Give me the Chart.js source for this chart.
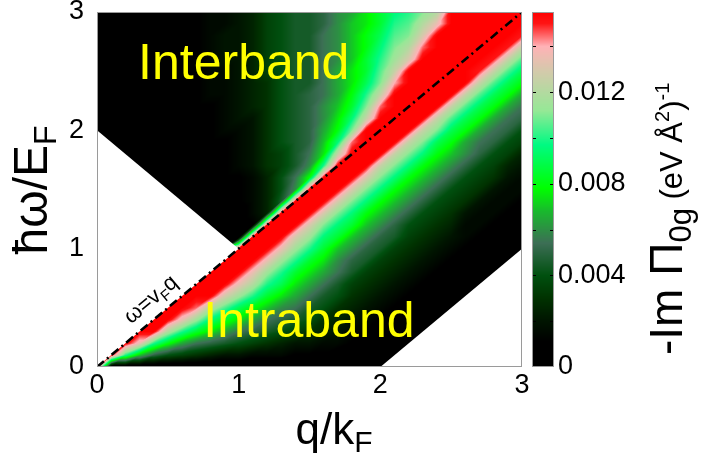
<!DOCTYPE html>
<html>
<head>
<meta charset="utf-8">
<title>-Im Π0g map</title>
<script src="https://cdn.jsdelivr.net/npm/chart.js@4.4.1/dist/chart.umd.min.js"></script>
<style>
  html, body { margin: 0; padding: 0; background: #ffffff; }
  canvas { display: block; }
</style>
</head>
<body>
<canvas id="chartCanvas" width="704" height="462"></canvas>
<script>
// sampling of the map: q/kF across, hbar*omega/EF up
const qGrid = [0, 0.1, 0.2, 0.3, 0.4, 0.5, 0.6, 0.7, 0.8, 0.9, 1, 1.1, 1.2, 1.3, 1.4, 1.5, 1.6, 1.7, 1.8, 1.9, 2, 2.1, 2.2, 2.3, 2.4, 2.5, 2.6, 2.7, 2.8, 2.9, 3];
const wGrid = [0, 0.1, 0.2, 0.3, 0.4, 0.5, 0.6, 0.7, 0.8, 0.9, 1, 1.1, 1.2, 1.3, 1.4, 1.5, 1.6, 1.7, 1.8, 1.9, 2, 2.1, 2.2, 2.3, 2.4, 2.5, 2.6, 2.7, 2.8, 2.9, 3];
// -Im Pi_0g, one string per q column, read upward in omega.
// '0'-'9','a'-'v' = 0..31 steps of cbStep (eV A^2)^-1, '.' = no absorption (left blank)
const imPiCols = [
  'v...................00000000000',
  '0v.................000000000000',
  '0kv...............0000000000000',
  '0erv.............00000000000000',
  '0akvv...........000000001111111',
  '08govv.........0000111111111111',
  '07dkrvv.......00011111122222211',
  '06bhntvv.....000111112222222222',
  '05afjovvv...0011112222233333333',
  '049dhlqvvv.00111222233333344433',
  '048bfinrvvv01122233334444444444',
  '037adgkorvvv2333344444555555555',
  '0369behknrvvv555566666666777777',
  '0358acfiknrvvv98877888888888888',
  '02479bdfhknqvvvcb99999999999999',
  '024689bdfhknqvvvgcbaaaaa9999999',
  '0235689bdfhjmqvvvkfedccbbbbbbaa',
  '01345689bcehjmqvvvpjgfedddccccc',
  '012345679acehjmqvvvtmjhgffeeeed',
  '0112345679acegjmqvvvvpmkihhggff',
  '00112345679acegjmpvvvvtpmlkjihh',
  '.00112345679acegjmpvvvvvspnmlkj',
  '..00112345678acegjmpvvvvvvqomlk',
  '...00112345678acegjmpvvvvvvtqom',
  '....00112345678acegimpvvvvvvvro',
  '.....00112345678acegilpvvvvvvvv',
  '......00112334678acdgilpvvvvvvv',
  '.......00112334678abdgilpuvvvvv',
  '........00112334678abdgilpuvvvv',
  '.........00112334578abdgilpuvvv',
  '..........00112334578abdgilpuvv'
];
const cbStep = 0.0005, cbMax = 0.0155;
const qTicks = [0, 1, 2, 3], wTicks = [0, 1, 2, 3];
const cbTicks = [0, 0.004, 0.008, 0.012];
const cbMinorTicks = [0.002, 0.004, 0.006, 0.008, 0.010, 0.012, 0.014];
// light cone omega = vF q
const lightConeQ = [0, 3], lightConeW = [0, 3];
// Pauli-blocked corners (no absorption), polygon corners in (q, omega)
const blankZones = [[[0, 0], [0, 2], [1, 1]], [[2, 0], [3, 0], [3, 1]]];
const regionLabels = [{ text: 'Interband', q: 0.29, w: 2.43 }, { text: 'Intraband', q: 0.75, w: 0.255 }];

// colour map: value, r, g, b
const paletteStops = [
  [0, 0, 0, 0], [0.0011, 0, 0, 0], [0.002, 0, 20, 0], [0.003, 0, 50, 0], [0.004, 0, 80, 15],
  [0.0054, 60, 110, 85], [0.0068, 25, 185, 45], [0.0078, 0, 255, 0], [0.0097, 0, 250, 130],
  [0.0112, 150, 232, 150], [0.013, 215, 200, 172], [0.014, 255, 178, 182], [0.015, 255, 20, 20], [0.0155, 255, 0, 0]
];
const FONT = "'Liberation Sans', Arial, sans-serif";

imPiCols.forEach((c, i) => { if (c.length !== wGrid.length) throw new Error('column ' + i + ' has ' + c.length + ' cells'); });
const cells = imPiCols.map(col => Array.from(col, ch => ch === '.' ? null : parseInt(ch, 32) * cbStep));

function paletteRGB(v) {
  if (v <= paletteStops[0][0]) return paletteStops[0].slice(1);
  for (let k = 1; k < paletteStops.length; k++) {
    const b = paletteStops[k];
    if (v <= b[0]) {
      const a = paletteStops[k - 1], f = (v - a[0]) / (b[0] - a[0]);
      return [a[1] + f * (b[1] - a[1]), a[2] + f * (b[2] - a[2]), a[3] + f * (b[3] - a[3])];
    }
  }
  return paletteStops[paletteStops.length - 1].slice(1);
}

// shading inside each grid cell, split along its rising diagonal so the
// bands that follow omega ~ q stay smooth; blank nodes are skipped
function shade(q, w) {
  const dq = qGrid[1] - qGrid[0], dw = wGrid[1] - wGrid[0];
  const fi = (q - qGrid[0]) / dq, fj = (w - wGrid[0]) / dw;
  const i0 = Math.max(0, Math.min(qGrid.length - 2, Math.floor(fi)));
  const j0 = Math.max(0, Math.min(wGrid.length - 2, Math.floor(fj)));
  const s = Math.min(1, Math.max(0, fi - i0)), t = Math.min(1, Math.max(0, fj - j0));
  const corners = t <= s
    ? [[0, 0, 1 - s], [1, 0, s - t], [1, 1, t]]
    : [[0, 0, 1 - t], [0, 1, t - s], [1, 1, s]];
  let sum = 0, wsum = 0;
  corners.forEach(([di, dj, wt]) => {
    const v = cells[i0 + di][j0 + dj];
    if (v !== null && wt > 0) { sum += v * wt; wsum += wt; }
  });
  if (wsum > 0) return sum / wsum;
  // fall back to any filled corner of the cell
  const near = [[0, 0], [1, 0], [0, 1], [1, 1]].map(([di, dj]) => cells[i0 + di][j0 + dj]).filter(v => v !== null);
  return near.length ? near[0] : null;
}

function drawRun(ctx, x, y, parts) {
  let cx = x;
  parts.forEach(([t, size, shift]) => {
    ctx.font = size + 'px ' + FONT;
    ctx.fillText(t, cx, y + shift);
    cx += ctx.measureText(t).width;
  });
  return cx - x;
}
function runWidth(ctx, parts) {
  return parts.reduce((s, [t, size]) => { ctx.font = size + 'px ' + FONT; return s + ctx.measureText(t).width; }, 0);
}

const mapPlugin = {
  id: 'imPiMap',
  beforeDatasetsDraw(chart) {
    const { ctx, chartArea: area, scales: { x, y } } = chart;
    const w = Math.round(area.right - area.left), h = Math.round(area.bottom - area.top);
    const off = document.createElement('canvas');
    off.width = w; off.height = h;
    const octx = off.getContext('2d'), img = octx.createImageData(w, h);
    for (let py = 0; py < h; py++) {
      const wv = y.getValueForPixel(area.top + py + 0.5);
      for (let px = 0; px < w; px++) {
        const v = shade(x.getValueForPixel(area.left + px + 0.5), wv);
        if (v === null) continue;
        const rgb = paletteRGB(v), k = 4 * (py * w + px);
        img.data[k] = rgb[0]; img.data[k + 1] = rgb[1]; img.data[k + 2] = rgb[2]; img.data[k + 3] = 255;
      }
    }
    octx.putImageData(img, 0, 0);
    ctx.drawImage(off, area.left, area.top);
    ctx.save();
    ctx.fillStyle = '#ffffff';
    blankZones.forEach(zone => {
      ctx.beginPath();
      zone.forEach(([q, wv], k) => {
        const X = x.getPixelForValue(q), Y = y.getPixelForValue(wv);
        if (k) ctx.lineTo(X, Y); else ctx.moveTo(X, Y);
      });
      ctx.closePath();
      ctx.fill();
    });
    ctx.restore();
  },
  afterDatasetsDraw(chart) {
    const { ctx, chartArea: area, scales: { x, y } } = chart;
    ctx.save();
    // region names
    ctx.fillStyle = '#ffff00';
    ctx.font = '50px ' + FONT;
    ctx.textBaseline = 'alphabetic';
    regionLabels.forEach(l => ctx.fillText(l.text, x.getPixelForValue(l.q), y.getPixelForValue(l.w)));
    // light cone tag, laid along the line
    const ang = Math.atan2(y.getPixelForValue(3) - y.getPixelForValue(0), x.getPixelForValue(3) - x.getPixelForValue(0));
    ctx.translate(x.getPixelForValue(0.24), y.getPixelForValue(0.36));
    ctx.rotate(ang);
    ctx.fillStyle = '#000000';
    drawRun(ctx, 0, 0, [['ω=v', 22, 0], ['F', 15, 5], ['q', 22, 0]]);
    ctx.restore();
    // frame
    ctx.save();
    ctx.strokeStyle = '#9a9a9a';
    ctx.lineWidth = 1;
    ctx.strokeRect(area.left + 0.5, area.top + 0.5, area.right - area.left - 1, area.bottom - area.top - 1);
    ctx.restore();
  },
  afterDraw(chart) {
    const { ctx, chartArea: area, scales: { cb } } = chart;
    ctx.save();
    // colour bar
    const bx0 = area.right + 10, bx1 = area.right + 32;
    for (let py = Math.round(cb.top); py < Math.round(cb.bottom); py++) {
      const rgb = paletteRGB(cb.getValueForPixel(py + 0.5));
      ctx.fillStyle = 'rgb(' + rgb.map(Math.round).join(',') + ')';
      ctx.fillRect(bx0, py, bx1 - bx0, 1);
    }
    ctx.strokeStyle = '#000000';
    ctx.lineWidth = 1;
    cbMinorTicks.forEach(v => {
      const Y = Math.round(cb.getPixelForValue(v)) + 0.5;
      ctx.beginPath();
      ctx.moveTo(bx0, Y); ctx.lineTo(bx0 + 4, Y);
      ctx.moveTo(bx1 - 4, Y); ctx.lineTo(bx1, Y);
      ctx.stroke();
    });
    ctx.strokeStyle = '#9a9a9a';
    ctx.strokeRect(bx0 + 0.5, cb.top + 0.5, bx1 - bx0 - 1, cb.bottom - cb.top - 1);

    ctx.fillStyle = '#000000';
    ctx.textBaseline = 'alphabetic';
    // x title
    const xt = [['q/k', 44, 0], ['F', 30, 8]];
    drawRun(ctx, 334 - runWidth(ctx, xt) / 2, 444, xt);
    // y title
    const yt = [['ħω/E', 48, 0], ['F', 32, 9]];
    ctx.save();
    ctx.translate(47, 190 + runWidth(ctx, yt) / 2);
    ctx.rotate(-Math.PI / 2);
    drawRun(ctx, 0, 0, yt);
    ctx.restore();
    // colour bar title
    const ct = [['-Im Π', 46, 0], ['0g', 31, 9], [' (eV Å', 31, 0], ['2', 20, -13], [')', 31, 0], ['-1', 20, -13]];
    ctx.save();
    ctx.translate(682, 355);
    ctx.rotate(-Math.PI / 2);
    drawRun(ctx, 0, 0, ct);
    ctx.restore();
    ctx.restore();
  }
};

const tickFont = { family: FONT, size: 27, lineHeight: 0.88 };
// invisible tick marks set the gap between an axis and its labels
const hiddenTicks = len => ({ display: true, drawOnChartArea: false, drawTicks: true, tickLength: len, tickColor: 'rgba(0,0,0,0)' });
new Chart(document.getElementById('chartCanvas').getContext('2d'), {
  type: 'scatter',
  data: {
    datasets: [{
      data: lightConeQ.map((q, k) => ({ x: q, y: lightConeW[k] })),
      showLine: true, borderColor: '#000000', borderWidth: 2.6, borderDash: [9, 4, 2, 4],
      pointRadius: 0, fill: false
    }]
  },
  options: {
    responsive: false, animation: false, events: [],
    layout: { padding: { top: 12 } },
    plugins: { legend: { display: false }, tooltip: { enabled: false } },
    scales: {
      x: {
        type: 'linear', min: 0, max: 3, grid: hiddenTicks(7), border: { display: false },
        ticks: { font: tickFont, color: '#000000', padding: 0, maxRotation: 0 },
        afterBuildTicks: s => { s.ticks = qTicks.map(v => ({ value: v })); },
        afterFit: s => { s.height = 95; }
      },
      y: {
        type: 'linear', min: 0, max: 3, grid: hiddenTicks(13), border: { display: false },
        ticks: { font: tickFont, color: '#000000', padding: 0 },
        afterBuildTicks: s => { s.ticks = wTicks.map(v => ({ value: v })); },
        afterFit: s => { s.width = 97; }
      },
      cb: {
        type: 'linear', position: 'right', min: 0, max: cbMax,
        grid: hiddenTicks(36), border: { display: false },
        ticks: { font: tickFont, color: '#000000', padding: 0, callback: v => v === 0 ? '0' : v.toFixed(3) },
        afterBuildTicks: s => { s.ticks = cbTicks.map(v => ({ value: v })); },
        afterFit: s => { s.width = 182; }
      }
    }
  },
  plugins: [mapPlugin]
});
</script>
</body>
</html>
